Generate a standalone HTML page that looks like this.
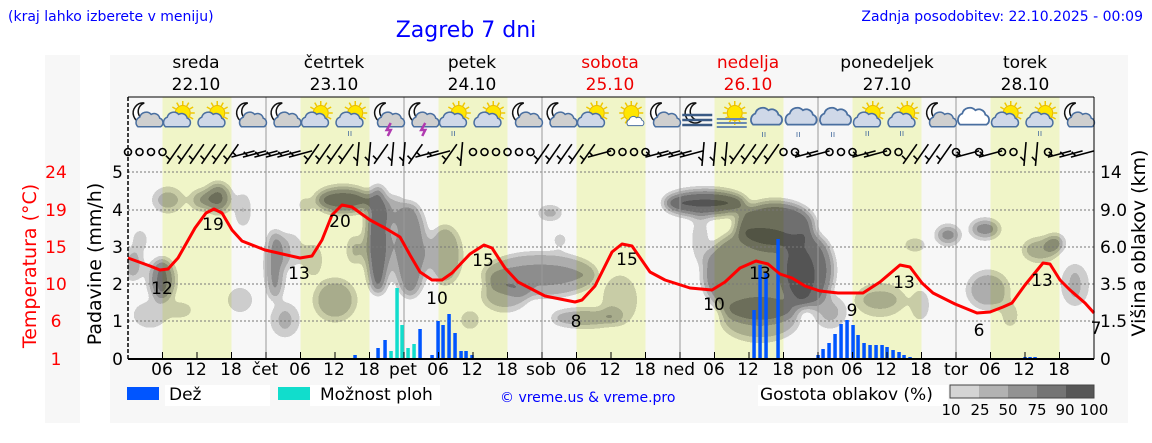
<!DOCTYPE html>
<html><head><meta charset="utf-8"><style>
html,body{margin:0;padding:0;background:#fff;}
svg{display:block;font-family:"DejaVu Sans","Liberation Sans",sans-serif;}
</style></head><body>
<svg id="s" width="1152" height="443" viewBox="0 0 1152 443" xmlns="http://www.w3.org/2000/svg">
<defs>
<filter id="bl" x="-50%" y="-50%" width="200%" height="200%"><feGaussianBlur stdDeviation="5"/>
<feComponentTransfer><feFuncA type="discrete" tableValues="0 0.17 0.3 0.43 0.55 0.66"/></feComponentTransfer></filter>
<clipPath id="pc"><rect x="128" y="165" width="966" height="194"/></clipPath>
</defs>
<rect x="45" y="55" width="35" height="368" fill="#f7f7f7"/>
<rect x="110" y="55" width="1018" height="368" fill="#f7f7f7"/>
<g id="bands"></g>
<g clip-path="url(#pc)"><g filter="url(#bl)" id="clouds"></g></g>
<g id="grid"></g>
<g id="bars"></g>
<polyline fill="none" stroke="#f00" stroke-width="3" stroke-linejoin="round" points="128,258 150,266 160,270 168,269 178,258 195,228 206,213 214,209 222,213 232,230 242,241 265,250 300,258 312,256 322,240 332,215 342,205 352,207 370,220 385,228 400,237 410,255 420,272 432,280 442,280 452,273 470,254 484,245 492,248 505,268 518,282 545,296 575,302 582,300 595,286 612,252 622,244 632,246 650,272 665,280 690,288 712,290 725,282 740,268 756,261 768,264 780,274 792,278 805,286 820,291 838,293 863,293 880,282 900,265 910,267 922,283 933,293 955,304 977,313 990,312 1003,307 1012,303 1025,285 1043,263 1050,264 1060,280 1070,290 1085,303 1094,313"/>
<g font-size="17" fill="#000" text-anchor="middle">
<text x="162" y="294">12</text><text x="213" y="230">19</text><text x="299" y="279">13</text><text x="340" y="227">20</text>
<text x="437" y="304">10</text><text x="483" y="266">15</text><text x="576" y="327">8</text><text x="627" y="265">15</text>
<text x="714" y="310">10</text><text x="760" y="279">13</text><text x="852" y="316">9</text><text x="904" y="288">13</text>
<text x="979" y="336">6</text><text x="1042" y="286">13</text><text x="1096" y="334">7</text>
</g>
<g id="icons"></g>
<g id="wind" stroke="#000" stroke-width="2" fill="none"></g>
<line x1="128" y1="359" x2="1094" y2="359" stroke="#000" stroke-width="2"/>
<line x1="128" y1="97" x2="128" y2="359" stroke="#000" stroke-width="1.5" stroke-dasharray="4,2"/>
<line x1="1094" y1="97" x2="1094" y2="359" stroke="#000" stroke-width="1"/>
<line x1="128" y1="97" x2="1094" y2="97" stroke="#000" stroke-width="1"/>
<g id="ticks" stroke="#000" stroke-width="1"></g>
<g font-size="17" text-anchor="middle" fill="#000">
<text x="162" y="375">06</text><text x="196" y="375">12</text><text x="231" y="375">18</text><text x="265" y="375">čet</text>
<text x="300" y="375">06</text><text x="334" y="375">12</text><text x="369" y="375">18</text><text x="403" y="375">pet</text>
<text x="438" y="375">06</text><text x="472" y="375">12</text><text x="507" y="375">18</text><text x="541" y="375">sob</text>
<text x="576" y="375">06</text><text x="610" y="375">12</text><text x="645" y="375">18</text><text x="679" y="375">ned</text>
<text x="714" y="375">06</text><text x="748" y="375">12</text><text x="783" y="375">18</text><text x="818" y="375">pon</text>
<text x="852" y="375">06</text><text x="886" y="375">12</text><text x="921" y="375">18</text><text x="956" y="375">tor</text>
<text x="990" y="375">06</text><text x="1024" y="375">12</text><text x="1059" y="375">18</text>
</g>
<g font-size="17" text-anchor="middle">
<text x="196" y="68">sreda</text><text x="196" y="90">22.10</text>
<text x="334" y="68">četrtek</text><text x="334" y="90">23.10</text>
<text x="472" y="68">petek</text><text x="472" y="90">24.10</text>
<text x="610" y="68" fill="#e00">sobota</text><text x="610" y="90" fill="#e00">25.10</text>
<text x="748" y="68" fill="#e00">nedelja</text><text x="748" y="90" fill="#e00">26.10</text>
<text x="887" y="68">ponedeljek</text><text x="887" y="90">27.10</text>
<text x="1025" y="68">torek</text><text x="1025" y="90">28.10</text>
</g>
<g font-size="17" text-anchor="end" fill="#000">
<text x="123" y="178">5</text><text x="123" y="216">4</text><text x="123" y="253">3</text><text x="123" y="290">2</text><text x="123" y="327">1</text><text x="123" y="365">0</text>
</g>
<g font-size="17" text-anchor="middle" fill="#f00">
<text x="56" y="178">24</text><text x="56" y="216">19</text><text x="56" y="253">15</text><text x="56" y="290">10</text><text x="56" y="327">6</text><text x="56" y="365">1</text>
</g>
<g font-size="17" fill="#000">
<text x="1100" y="178">14</text><text x="1100" y="216">9.0</text><text x="1100" y="253">6.0</text><text x="1100" y="290">3.5</text><text x="1100" y="327">1.5</text><text x="1100" y="365">0</text>
</g>
<text transform="translate(36,266) rotate(-90)" font-size="19" fill="#f00" text-anchor="middle">Temperatura (°C)</text>
<text transform="translate(101,264) rotate(-90)" font-size="19" fill="#000" text-anchor="middle">Padavine (mm/h)</text>
<text transform="translate(1145,243) rotate(-90)" font-size="19" fill="#000" text-anchor="middle">Višina oblakov (km)</text>
<text x="8" y="21" font-size="14" fill="#00f">(kraj lahko izberete v meniju)</text>
<text x="466" y="37" font-size="22" fill="#00f" text-anchor="middle">Zagreb 7 dni</text>
<text x="1143" y="21" font-size="14" fill="#00f" text-anchor="end">Zadnja posodobitev: 22.10.2025 - 00:09</text>
<rect x="165" y="385" width="105" height="21" fill="#fff"/>
<rect x="127" y="387" width="32" height="13" fill="#0055ff"/><text x="169" y="400" font-size="17">Dež</text>
<rect x="278" y="387" width="32" height="13" fill="#11ddcc"/><rect x="310" y="385" width="130" height="21" fill="#fff"/><text x="320" y="400" font-size="17">Možnost ploh</text>
<text x="500" y="402" font-size="14" fill="#00f">© vreme.us &amp; vreme.pro</text>
<rect x="758" y="385" width="190" height="21" fill="#fff"/><text x="760" y="400" font-size="17">Gostota oblakov (%)</text>
<rect x="950" y="385" width="29" height="13" fill="#d4d4d4"/><rect x="979" y="385" width="29" height="13" fill="#b2b2b2"/><rect x="1008" y="385" width="29" height="13" fill="#929292"/><rect x="1037" y="385" width="29" height="13" fill="#747474"/><rect x="1066" y="385" width="28" height="13" fill="#575757"/>
<rect x="950" y="385" width="144" height="13" fill="none" stroke="#444" stroke-width="1"/>
<g font-size="15" text-anchor="middle"><text x="951" y="415">10</text><text x="980" y="415">25</text><text x="1008" y="415">50</text><text x="1037" y="415">75</text><text x="1065" y="415">90</text><text x="1094" y="415">100</text></g>
</svg>
<script>
const NS="http://www.w3.org/2000/svg";
function el(p,t,a){const e=document.createElementNS(NS,t);for(const k in a)e.setAttribute(k,a[k]);p.appendChild(e);return e;}
const $=id=>document.getElementById(id);
const X0=128,D=138,H=D/24;
for(let d=0;d<7;d++){el($('bands'),'rect',{x:X0+d*D+6*H,y:97,width:12*H,height:262,fill:'#f0f5c8'});}
[172,210,247,284,321].forEach(y=>el($('grid'),'line',{x1:128,x2:1094,y1:y,y2:y,stroke:'#777','stroke-width':1,'stroke-dasharray':'2,2'}));
for(let d=1;d<7;d++)el($('grid'),'line',{x1:X0+d*D,x2:X0+d*D,y1:97,y2:359,stroke:'#999','stroke-width':1});
for(let i=1;i<28;i++){const x=X0+i*6*H;el($('ticks'),'line',{x1:x,x2:x,y1:359,y2:352});}
const C=[[133,265,10,16,.45],[162,280,13,22,.7],[168,200,16,13,.4],[200,200,10,10,.5],[218,198,13,15,.7],[243,210,7,18,.4],[150,315,18,14,.3],[140,240,8,12,.3],[180,310,15,10,.25],
[275,265,9,36,.6],[285,320,15,18,.35],[290,250,13,18,.3],[343,200,28,13,.75],[378,240,12,55,.8],[335,300,22,22,.4],[313,260,10,18,.3],[305,205,6,8,.4],[355,250,8,15,.4],[240,300,15,15,.25],
[410,250,17,48,.6],[445,255,17,30,.45],[395,210,10,15,.4],[540,275,58,22,.5],[505,295,24,17,.4],[550,213,12,6,.55],[585,318,35,9,.5],[620,300,18,26,.3],[560,240,8,8,.3],[470,320,12,12,.25],
[705,203,42,13,.85],[775,225,40,24,.75],[760,275,58,48,.6],[808,270,26,38,.7],[830,312,17,17,.35],[880,300,26,17,.35],[760,320,40,22,.4],[700,240,10,25,.25],
[915,245,12,6,.4],[948,235,12,9,.65],[985,229,15,9,.65],[988,290,22,20,.4],[1040,250,18,12,.45],[1055,243,9,8,.7],[1075,285,14,22,.35],[920,305,10,17,.3],[1010,315,10,15,.25]];
C.forEach(c=>el($('clouds'),'ellipse',{cx:c[0],cy:c[1],rx:c[2],ry:c[3],fill:'#000','fill-opacity':c[4]}));
const B=[[355,355,'b'],[378,348,'b'],[385,340,'b'],[391,351,'t'],[397,288,'t'],[402,325,'t'],[408,348,'t'],[414,344,'t'],[420,329,'b'],[432,355,'b'],[438,321,'b'],[443,325,'b'],[449,314,'b'],[455,333,'b'],[461,351,'b'],[466,351,'b'],[472,355,'b'],
[754,310,'b'],[760,265,'b'],[766,273,'b'],[778,239,'b'],
[818,355,'b'],[823,349,'b'],[829,343,'b'],[835,334,'b'],[841,324,'b'],[847,320,'b'],[853,325,'b'],[858,335,'b'],[864,343,'b'],[870,345,'b'],[876,345,'b'],[882,345,'b'],[887,347,'b'],[893,350,'b'],[899,352,'b'],[904,355,'b'],[910,357,'b'],[1025,357,'b'],[1030,357,'b'],[1035,357,'b']];
B.forEach(b=>el($('bars'),'rect',{x:b[0]-1.7,y:b[1],width:3.5,height:359-b[1],fill:b[2]=='b'?'#0055ff':'#11ddcc'}));
const IC=['mc','sc','sc','mc','mc','sc','sr','mt','mt','sr','sc','mc','mc','sc','ss','mc','mf','sf','rc','rc','rc','sr','sr','mc','cw','sc','sr','mc'];
const g=$('icons');
function cloud(x,y,fill,s){s=s||1;const gg=el(g,'g',{transform:`translate(${x},${y}) scale(${s})`});
 el(gg,'path',{d:'M-12,6 a6,6 0 0,1 2,-10 a7,7 0 0,1 12,-3 a6,6 0 0,1 9,4 a5,5 0 0,1 1,9 z',fill:fill,stroke:'#4a6fa0','stroke-width':1.6});}
function sun(x,y){for(let a=0;a<12;a++){const r=a*Math.PI/6;el(g,'line',{x1:x+Math.cos(r)*8,y1:y+Math.sin(r)*8,x2:x+Math.cos(r)*12,y2:y+Math.sin(r)*12,stroke:'#f0c800','stroke-width':1.5});}
 el(g,'circle',{cx:x,cy:y,r:7.5,fill:'#ffe600',stroke:'#e8b800'});}
function moon(x,y){el(g,'path',{d:`M${x+3},${y-10} a10,10 0 1,0 6,17 a8,8 0 1,1 -6,-17z`,fill:'#fff',stroke:'#111','stroke-width':1.5});}
IC.forEach((t,i)=>{const x=X0+34.5*(i+.5),y=117;
 if(t[0]=='m'){moon(x-4,y-4);if(t=='mf'){[0,5,10].forEach(k=>el(g,'line',{x1:x-15,x2:x+15,y1:y+k-2,y2:y+k-2,stroke:'#3a5a85','stroke-width':2.5}));}
  else cloud(x+4,y+4,'#cfcfcf',.95);
  if(t=='mt')el(g,'path',{d:`M${x+4},${y+6} l-4,7 h4 l-3,6`,stroke:'#b03ab0','stroke-width':2.5,fill:'none'});}
 else if(t[0]=='s'){sun(x+3,y-4);
  if(t=='sf'){[2,6,10].forEach(k=>el(g,'line',{x1:x-15,x2:x+15,y1:y+k,y2:y+k,stroke:'#6a8ab0','stroke-width':2}));}
  else if(t=='ss')cloud(x+7,y+5,'#fff',.6);else cloud(x-3,y+4,'#cfd8e8',.95);
  if(t=='sr')el(g,'text',{x:x-5,y:y+19,'font-size':9,fill:'#4a6fa0'}).textContent='ıı';}
 else {cloud(x,y+1,t=='cw'?'#fff':'#cfd8e8',1.1);if(t=='rc'){el(g,'text',{x:x-5,y:y+20,'font-size':9,fill:'#4a6fa0'}).textContent='ıı';}}
});
const W='oooo//////--'+'----////||/|'+'|/--/|oooooo'+'/////-oooo--'+'--|||////oo-'+'-ooo--oo////'+'o-o-oo||o---';
const wg=$('wind');
for(let i=0;i<84;i++){const x=X0+i*11.5,y=152,c=W[i]||'o';
 if(c=='o')el(wg,'circle',{cx:x,cy:y,r:3.5,'stroke-width':1.6});
 else{let a=c=='/'?-55:c=='-'?-15:-85;const r=a*Math.PI/180,L=12;
  const x1=x-Math.cos(r)*L,y1=y-Math.sin(r)*L+2,x2=x+Math.cos(r)*L,y2=y+Math.sin(r)*L+2;
  el(wg,'line',{x1:x1,y1:y1,x2:x2,y2:y2,'stroke-width':1.6});
  el(wg,'line',{x1:x1+Math.cos(r)*5,y1:y1+Math.sin(r)*5,x2:x1+Math.cos(r)*5-4,y2:y1+Math.sin(r)*5-4,'stroke-width':1.6});}}
</script>
</body></html>
